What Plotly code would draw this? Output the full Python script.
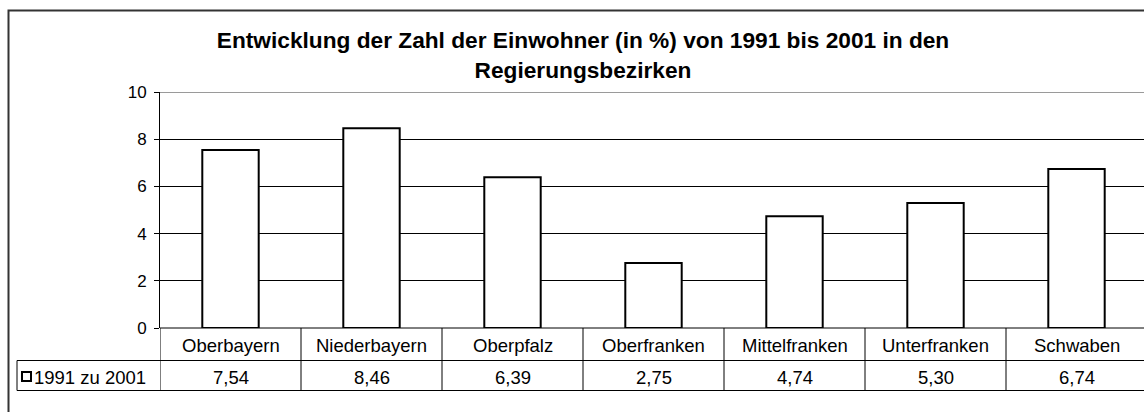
import plotly.graph_objects as go

regions = ["Oberbayern", "Niederbayern", "Oberpfalz", "Oberfranken",
           "Mittelfranken", "Unterfranken", "Schwaben"]
growth = [7.54, 8.46, 6.39, 2.75, 4.74, 5.30, 6.74]
series_name = "1991 zu 2001"
y_ticks = [0, 2, 4, 6, 8, 10]

FONT = "Liberation Sans, Arial, sans-serif"
W, H = 1144, 412
L, T, B = 160, 92, 84          # plot area in pixels
PW, PH = W - L, H - T - B
COL = 141                       # pixel width of one category column


def px(p):  # pixel x -> paper x
    return (p - L) / PW


def py(p):  # pixel y -> paper y
    return (H - B - p) / PH


fig = go.Figure()
fig.add_trace(go.Bar(x=regions,
                     y=growth,
                     name=series_name,
                     width=0.4,
                     marker=dict(color="white", line=dict(color="black", width=2)),
                     hoverinfo="x+y"))

shapes = []
# grey top border of the plot area
shapes.append(dict(type="line", xref="paper", yref="y", x0=0, x1=1.02, y0=10, y1=10,
                   line=dict(color="#9a9a9a", width=2), layer="above"))

# data table lines
row1, row2 = py(360.5), py(390.5)
shapes.append(dict(type="line", xref="paper", yref="paper", x0=0, x1=1.02, y0=0, y1=0,
                   line=dict(color="black", width=1)))
for yy in (row1, row2):
    shapes.append(dict(type="line", xref="paper", yref="paper", x0=px(17), x1=1.02,
                       y0=yy, y1=yy, line=dict(color="black", width=1)))
shapes.append(dict(type="line", xref="paper", yref="paper", x0=px(17), x1=px(17),
                   y0=row1, y1=row2, line=dict(color="black", width=1)))
for i in range(len(regions) + 1):
    shapes.append(dict(type="line", xref="x", yref="paper", x0=i - 0.5, x1=i - 0.5,
                       y0=0, y1=row2, line=dict(color="black", width=1)))

# legend key in table
shapes.append(dict(type="rect", xref="paper", yref="paper",
                   x0=px(22), x1=px(31), y0=py(381), y1=py(372),
                   line=dict(color="black", width=2), fillcolor="white"))

# outer chart frame
shapes.append(dict(type="rect", xref="paper", yref="paper",
                   x0=px(8.5), x1=1.1, y0=-0.6, y1=py(10.5),
                   line=dict(color="#333333", width=2)))

tfont = dict(size=18.5, color="black")
annotations = []
for r, v in zip(regions, growth):
    annotations.append(dict(x=r, xref="x", y=py(345), yref="paper", text=r,
                            xanchor="center", yanchor="middle",
                            showarrow=False, font=tfont))
    annotations.append(dict(x=r, xref="x", y=py(377), yref="paper",
                            text=f"{v:.2f}".replace(".", ","),
                            xanchor="center", yanchor="middle",
                            showarrow=False, font=tfont))
annotations.append(dict(x=px(32), xref="paper", y=py(377), yref="paper",
                        text=series_name, xanchor="left", yanchor="middle",
                        showarrow=False, font=tfont))

fig.update_layout(
    width=W, height=H,
    margin=dict(l=L, r=0, t=T, b=B),
    paper_bgcolor="white",
    plot_bgcolor="white",
    font=dict(family=FONT, size=17, color="black"),
    showlegend=False,
    title=dict(text="<b>Entwicklung der Zahl der Einwohner (in %) von 1991 bis 2001 in den<br>Regierungsbezirken</b>",
               x=px(583), xref="paper", xanchor="center",
               y=1 - 48 / H, yref="container", yanchor="top",
               font=dict(size=22.7, color="black", family=FONT)),
    xaxis=dict(range=[-0.5, -0.5 + PW / COL], showticklabels=False, showgrid=False,
               zeroline=False, showline=False, fixedrange=True),
    yaxis=dict(range=[0, 10], tickvals=y_ticks, showgrid=True, gridcolor="black",
               gridwidth=1, zeroline=False, showline=True, linecolor="black", linewidth=1,
               ticks="outside", ticklen=5, tickcolor="black", ticklabelstandoff=4,
               tickfont=dict(size=17), fixedrange=True),
    shapes=shapes,
    annotations=annotations,
)

fig.write_html("out.html", config={"displayModeBar": False},
               post_script="document.body.style.margin='0';")
